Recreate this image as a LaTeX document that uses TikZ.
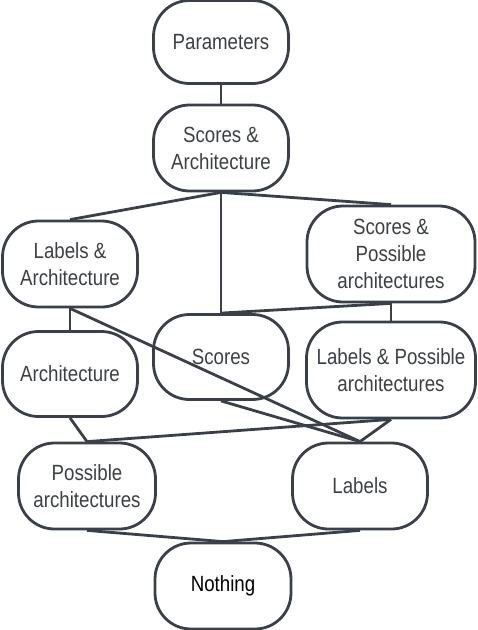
\documentclass[tikz,border=0pt]{standalone}
\usepackage{fontspec}
\setmainfont{Liberation Sans}[FakeStretch=0.85]
\usepackage{xcolor}
\usetikzlibrary{positioning}
\definecolor{edgegray}{HTML}{3B4048}
\definecolor{textgray}{HTML}{3C4043}
\tikzset{
    state/.style={draw=edgegray, line width=2.8pt, rounded corners=36pt,
        minimum width=135pt, minimum height=86pt, align=center,
        font=\fontsize{22}{27}\selectfont, text=#1},
    state/.default=textgray
}

\begin{document}
\begin{tikzpicture}[
    x=1pt, y=-1pt,
    widestate/.style={state, minimum width=168pt, minimum height=96pt},
    link/.style={draw=edgegray, line width=2.8pt}
]
\useasboundingbox (0,0) rectangle (478,630);

% Top of the lattice
\node[state, minimum height=83pt] (params) at (221,42) {Parameters};
\node[state] (scarch) at (221,148) {Scores \&\\Architecture};

% Second level
\node[state] (labarch) at (70,264) {Labels \&\\Architecture};
\node[widestate] (scposs) at (391,254) {Scores \&\\Possible\\architectures};

% Third level
\node[state, minimum height=85pt] (arch) at (70,374) {Architecture};
\node[state, minimum height=85pt] (scores) at (221,357) {Scores};
\node[widestate, minimum width=169pt] (labposs) at (391,370) {Labels \& Possible\\architectures};

% Fourth level
\node[state, minimum width=137pt] (possarch) at (87,486) {Possible\\architectures};
\node[state] (labels) at (360,486) {Labels};

% Bottom
\node[state=black, minimum width=136pt] (nothing) at (223,586) {Nothing};

% Connectors
\draw[link] (params.south) -- (scarch.north);
\draw[link] (scarch.south) -- (labarch.north);
\draw[link] (scarch.south) -- (scores.north);
\draw[link] (scarch.south) -- (scposs.north);
\draw[link] (scposs.south) -- (scores.north);
\draw[link] (scposs.south) -- (labposs.north);
\draw[link] (labarch.south) -- (arch.north);
\draw[link] (labarch.south) -- (labels.north);
\draw[link] (scores.south) -- (labels.north);
\draw[link] (arch.south) -- (possarch.north);
\draw[link] (labposs.south) -- (possarch.north);
\draw[link] (labposs.south) -- (labels.north);
\draw[link] (possarch.south) -- (nothing.north);
\draw[link] (labels.south) -- (nothing.north);

\end{tikzpicture}
\end{document}
